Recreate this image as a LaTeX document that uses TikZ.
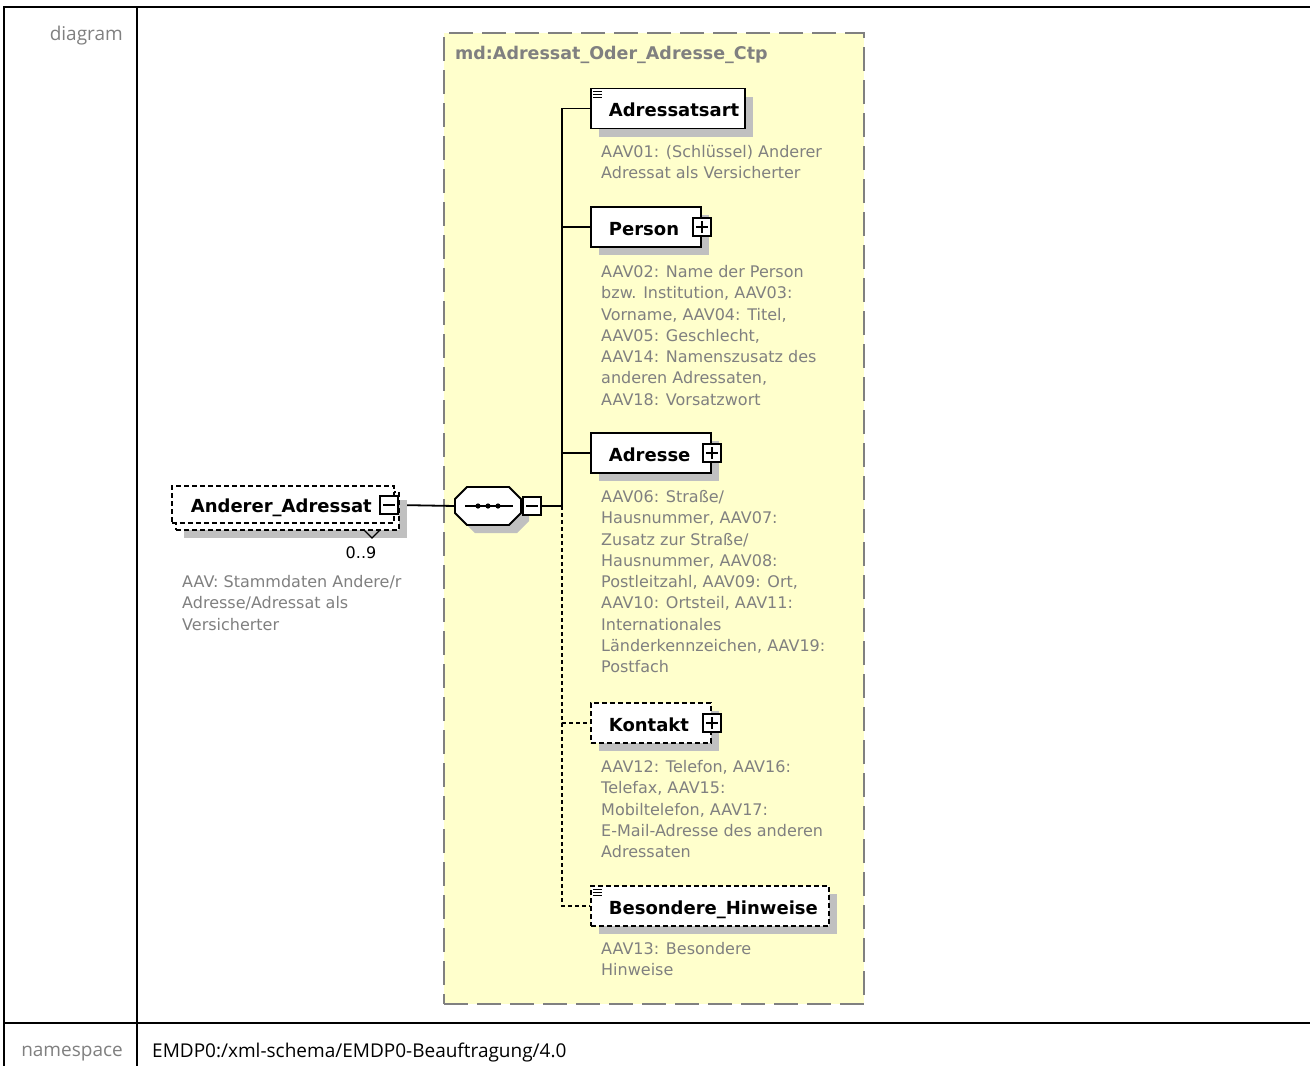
\documentclass[tikz,border=0pt]{standalone}
\usepackage{fontspec}
\setmainfont{DejaVu Sans}
\newfontfamily\labfont{Open Sans}
\usetikzlibrary{shadows}
\definecolor{yellowbg}{RGB}{255,255,204}
\definecolor{framegray}{RGB}{128,128,128}
\definecolor{shadowgray}{RGB}{192,192,192}
\definecolor{descgray}{RGB}{128,128,128}
\newcommand\eltitlefont{\fontsize{18}{21}\selectfont\bfseries}
\newcommand\eldescfont{\fontsize{16}{21.3}\selectfont}
\newcommand\tablabfont{\labfont\fontsize{19}{22}\selectfont}
\pgfdeclarelayer{bg}
\pgfdeclarelayer{conns}
\pgfsetlayers{bg,conns,main}
\begin{document}
\begin{tikzpicture}[x=1pt,y=-1pt,
  conn/.style={line width=1.8pt},
  optconn/.style={line width=1.8pt, dash pattern=on 4pt off 3pt},
  boxshadow/.style={drop shadow={shadow xshift=8pt, shadow yshift=-8pt, fill=shadowgray, opacity=1}},
  elembase/.style={draw=black, line width=1.8pt, fill=white, anchor=west, minimum height=40pt, inner sep=0pt, align=left, text height=16pt, text depth=0pt, font=\eltitlefont},
  elem/.style={elembase, boxshadow},
  optelem/.style={elem, dash pattern=on 5pt off 3pt},
  optelemflat/.style={elembase, dash pattern=on 5pt off 3pt},
  expander/.style={draw=black, fill=white, line width=1.5pt, minimum size=18pt, inner sep=0pt},
  plusbox/.style={expander, path picture={\draw[line width=1.4pt] ([xshift=-6pt]path picture bounding box.center) -- ([xshift=6pt]path picture bounding box.center) ([yshift=-6pt]path picture bounding box.center) -- ([yshift=6pt]path picture bounding box.center);}},
  minusbox/.style={expander, path picture={\draw[line width=1.4pt] ([xshift=-6pt]path picture bounding box.center) -- ([xshift=6pt]path picture bounding box.center);}},
  desc/.style={anchor=north west, inner sep=0pt, align=left, font=\eldescfont, text=descgray},
  groupbox/.style={draw=framegray, fill=yellowbg, line width=2pt, dash pattern=on 24pt off 9pt, inner sep=0pt, anchor=north west},
  tablab/.style={font=\tablabfont, inner sep=0pt},
  tabline/.style={line width=2pt},
  iconline/.style={line width=1pt},
]
\useasboundingbox (0,0) rectangle (1310,1066);
\begin{pgfonlayer}{bg}
  \fill[white] (0,0) rectangle (1310,1066);
  \node[groupbox, minimum width=420pt, minimum height=971pt] (grp) at (443,32) {};
\end{pgfonlayer}

% table frame
\draw[tabline] (3,7) -- (1310,7);
\draw[tabline] (4,7) -- (4,1066);
\draw[tabline] (137,7) -- (137,1066);
\draw[tabline] (4,1023) -- (1310,1023);
\node[tablab, text=descgray, anchor=base east] (diaglab) at (123,40) {diagram};
\node[tablab, text=descgray, anchor=base east] (nslab) at (123,1056) {namespace};
\node[tablab, anchor=base west] (nsval) at (152,1057) {EMDP0:/xml-schema/EMDP0-Beauftragung/4.0};

% group title
\node[anchor=base west, inner sep=0pt, font=\fontsize{17.5}{20}\selectfont\bfseries, text=framegray] (grptitle) at (455,59) {md:Adressat\_Oder\_Adresse\_Ctp};

% main element (multiple occurrences: stacked boxes)
\node[optelem, text width=223pt, minimum height=38pt] (andererback) at (175,511) {};
\node[optelemflat, text width=222pt, minimum height=37pt] (anderer) at (171,504.5) {\hspace*{19pt}Anderer\_Adressat};
\node[minusbox] (andexp) at (389,505) {};
\draw[line width=1.2pt] (364,530) -- (372,538) -- (380,530);
\node[font=\eldescfont, anchor=base, inner sep=0pt] (occ) at (361,558) {0..9};
\node[desc] (andererdesc) at (182,572.3) {\strut AAV: Stammdaten Andere/r\\Adresse/Adressat als\\Versicherter};

% sequence compositor
\node[minimum width=66pt, minimum height=38pt, inner sep=0pt] (seq) at (488,506) {};
\fill[shadowgray] ([shift={(8,8)}]seq.center) ++(-33,-7) -- ++(12,-12) -- ++(42,0) -- ++(12,12) -- ++(0,14) -- ++(-12,12) -- ++(-42,0) -- ++(-12,-12) -- cycle;
\filldraw[fill=white, draw=black, line width=1.8pt] (seq.center) ++(-33,-7) -- ++(12,-12) -- ++(42,0) -- ++(12,12) -- ++(0,14) -- ++(-12,12) -- ++(-42,0) -- ++(-12,-12) -- cycle;
\draw[line width=1.6pt] ([xshift=-23pt]seq.center) -- ([xshift=25pt]seq.center);
\foreach \dx in {-10,0,10} \fill ([xshift=\dx pt]seq.center) circle (2.6pt);
\node[minusbox] (seqexp) at (532,506) {};
\coordinate (bus) at (562,506);

% child elements
\node[elem, text width=154pt] (adressatsart) at (590,108.5) {\hspace*{18pt}Adressatsart};
\foreach \k in {0,1,2} \draw[iconline] ([shift={(3,4+3*\k)}]adressatsart.north west) -- ++(9,0);
\node[desc] (adressatsartdesc) at (601,142.3) {\strut AAV01: (Schlüssel) Anderer\\Adressat als Versicherter};

\node[elem, text width=110pt] (person) at (590,227) {\hspace*{18pt}Person};
\node[plusbox] (personexp) at (person.east) {};
\node[desc] (persondesc) at (601,262.3) {\strut AAV02: Name der Person\\bzw. Institution, AAV03:\\Vorname, AAV04: Titel,\\AAV05: Geschlecht,\\AAV14: Namenszusatz des\\anderen Adressaten,\\AAV18: Vorsatzwort};

\node[elem, text width=120pt] (adresse) at (590,453) {\hspace*{18pt}Adresse};
\node[plusbox] (adresseexp) at (adresse.east) {};
\node[desc] (adressedesc) at (601,487.3) {\strut AAV06: Straße/\\Hausnummer, AAV07:\\Zusatz zur Straße/\\Hausnummer, AAV08:\\Postleitzahl, AAV09: Ort,\\AAV10: Ortsteil, AAV11:\\Internationales\\Länderkennzeichen, AAV19:\\Postfach};

\node[optelem, text width=120pt] (kontakt) at (590,723) {\hspace*{18pt}Kontakt};
\node[plusbox] (kontaktexp) at (kontakt.east) {};
\node[desc] (kontaktdesc) at (601,757.3) {\strut AAV12: Telefon, AAV16:\\Telefax, AAV15:\\Mobiltelefon, AAV17:\\E-Mail-Adresse des anderen\\Adressaten};

\node[optelem, text width=238pt] (besondere) at (590,906) {\hspace*{18pt}Besondere\_Hinweise};
\foreach \k in {0,1,2} \draw[iconline] ([shift={(3,4+3*\k)}]besondere.north west) -- ++(9,0);
\node[desc] (besonderedesc) at (601,939.3) {\strut AAV13: Besondere\\Hinweise};

% connectors
\begin{pgfonlayer}{conns}
  \draw[conn] (andexp.east) -- (seq.west);
  \draw[conn] (seqexp.east) -- (bus);
  \draw[conn] (bus) |- (adressatsart.west);
  \draw[conn] (bus) |- (person.west);
  \draw[conn] (bus) |- (adresse.west);
  \draw[optconn] (bus) |- (kontakt.west);
  \draw[optconn] (bus) |- (besondere.west);
\end{pgfonlayer}
\end{tikzpicture}
\end{document}
